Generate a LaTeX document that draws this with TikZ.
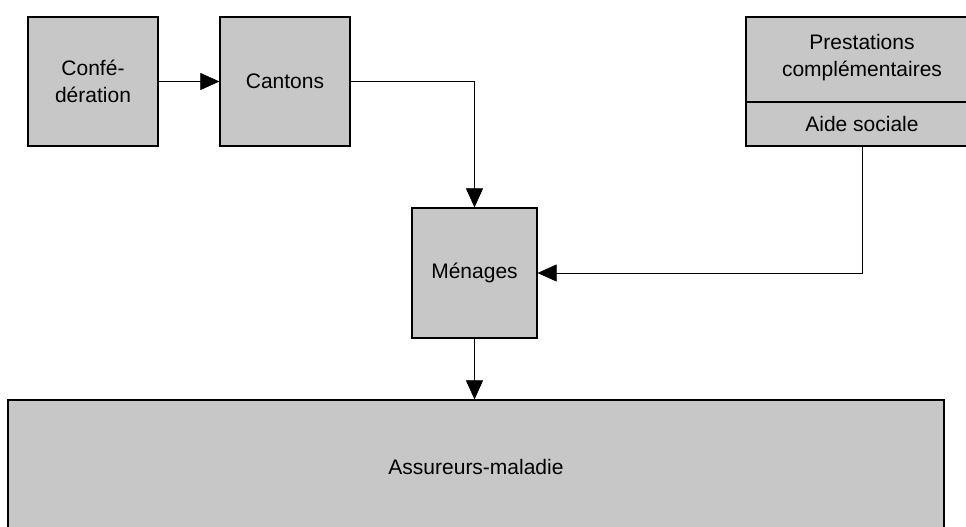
\documentclass[tikz,border=0pt]{standalone}
\usepackage{fontspec}
\setmainfont{Liberation Sans}
\usetikzlibrary{arrows.meta}
\begin{document}
\begin{tikzpicture}[x=1pt, y=-1pt,
    box/.style={draw, line width=1.2pt, fill=black!22, inner sep=0pt, font=\fontsize{21}{27}\selectfont, align=center},
    arr/.style={line width=0.6pt, -{Triangle[length=19pt, width=17pt]}}]
      \useasboundingbox (0,0) rectangle (966,527);
      \node[box, minimum width=130, minimum height=129] (conf) at (93,81.5){Confé-\\dération};
      \node[box, minimum width=130, minimum height=129] (cant) at (285,81.5){Cantons};
      \node[box, minimum width=232, minimum height=129] (prest) at (862,81.5){};
      \draw[line width=2pt] (prest.west |- 0,102) -- (prest.east |- 0,102);
      \node[font=\fontsize{21}{27}\selectfont, align=center] (prestA) at (862,58){Prestations\\complémentaires};
      \node[font=\fontsize{21}{27}\selectfont] (prestB) at (862,124){Aide sociale};
      \node[box, minimum width=125, minimum height=130] (men) at (474.5,273){Ménages};
      \node[box, minimum width=936, minimum height=134] (assur) at (476,467){Assureurs-maladie};
      \draw[arr] (conf) -- (cant);
      \draw[arr] (cant.east) -| (men.north);
      \draw[arr] (prest.south) |- (men.east);
      \draw[arr] (men.south) -- (men.south |- assur.north);

    \end{tikzpicture}
\end{document}
